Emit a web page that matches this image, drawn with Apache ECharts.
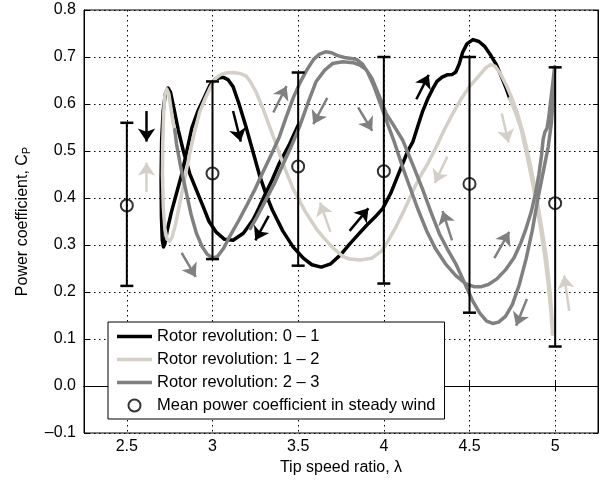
<!DOCTYPE html>
<html><head><meta charset="utf-8">
<script src="https://cdn.jsdelivr.net/npm/echarts@6/dist/echarts.min.js"></script>
<style>html,body{margin:0;padding:0;background:#fff}#c{width:606px;height:481px}</style>
</head><body><div id="c"></div>
<script>
// ---- data ----
const seriesNames = ['Rotor revolution: 0 \u2013 1', 'Rotor revolution: 1 \u2013 2', 'Rotor revolution: 2 \u2013 3', 'Mean power coefficient in steady wind'];
const rev01 = [[3.50,0.555],[3.45,0.515],[3.39,0.474],[3.35,0.44],[3.31,0.41],[3.27,0.378],[3.236,0.353],[3.18,0.325],[3.12,0.31],[3.07,0.312],[3.02,0.328],[2.98,0.35],[2.945,0.382],[2.905,0.418],[2.867,0.452],[2.83,0.5],[2.80,0.545],[2.775,0.59],[2.755,0.625],[2.74,0.634],[2.725,0.622],[2.712,0.585],[2.703,0.52],[2.70,0.44],[2.702,0.36],[2.707,0.31],[2.714,0.296],[2.722,0.302],[2.735,0.33],[2.76,0.37],[2.79,0.41],[2.82,0.45],[2.85,0.50],[2.88,0.55],[2.915,0.585],[2.95,0.612],[2.985,0.64],[3.02,0.654],[3.06,0.657],[3.09,0.652],[3.12,0.637],[3.155,0.60],[3.195,0.552],[3.235,0.50],[3.275,0.448],[3.315,0.405],[3.35,0.374],[3.41,0.33],[3.47,0.296],[3.53,0.272],[3.58,0.258],[3.635,0.253],[3.69,0.26],[3.75,0.28],[3.80,0.302],[3.85,0.322],[3.90,0.342],[3.95,0.36],[3.994,0.378],[4.04,0.41],[4.09,0.455],[4.14,0.50],[4.17,0.52],[4.20,0.555],[4.227,0.585],[4.255,0.61],[4.285,0.632],[4.31,0.648],[4.34,0.657],[4.37,0.662],[4.40,0.663],[4.42,0.668],[4.44,0.685],[4.46,0.71],[4.485,0.728],[4.52,0.737],[4.555,0.733],[4.59,0.722],[4.625,0.703],[4.655,0.685],[4.69,0.655],[4.715,0.632],[4.735,0.612]];
const rev12 = [[4.735,0.612],[4.77,0.58],[4.80,0.548],[4.83,0.50],[4.86,0.447],[4.89,0.39],[4.915,0.335],[4.94,0.275],[4.96,0.215],[4.975,0.16],[4.985,0.11],[4.983,0.14],[4.97,0.2],[4.95,0.27],[4.92,0.34],[4.885,0.415],[4.85,0.48],[4.815,0.535],[4.78,0.58],[4.75,0.61],[4.715,0.64],[4.68,0.665],[4.65,0.68],[4.625,0.684],[4.595,0.677],[4.555,0.66],[4.50,0.637],[4.45,0.61],[4.40,0.578],[4.35,0.543],[4.305,0.508],[4.255,0.472],[4.207,0.443],[4.17,0.415],[4.12,0.375],[4.07,0.338],[4.03,0.312],[3.99,0.288],[3.93,0.272],[3.86,0.268],[3.80,0.27],[3.76,0.276],[3.70,0.295],[3.65,0.315],[3.605,0.335],[3.54,0.372],[3.47,0.42],[3.42,0.465],[3.37,0.516],[3.33,0.555],[3.295,0.59],[3.255,0.625],[3.22,0.648],[3.195,0.66],[3.16,0.665],[3.12,0.667],[3.08,0.666],[3.05,0.663],[3.02,0.655],[2.99,0.637],[2.955,0.61],[2.925,0.583],[2.895,0.54],[2.867,0.495],[2.84,0.445],[2.81,0.39],[2.785,0.345],[2.765,0.318],[2.75,0.308],[2.735,0.312],[2.722,0.335],[2.713,0.38],[2.708,0.45],[2.71,0.52],[2.715,0.58],[2.722,0.618],[2.733,0.632],[2.745,0.622],[2.758,0.59],[2.77,0.56],[2.78,0.545]];
const rev23 = [[2.78,0.545],[2.79,0.515],[2.815,0.465],[2.845,0.415],[2.875,0.365],[2.906,0.325],[2.94,0.296],[2.97,0.28],[3.0,0.272],[3.03,0.276],[3.065,0.293],[3.10,0.318],[3.15,0.35],[3.198,0.383],[3.25,0.42],[3.294,0.455],[3.34,0.49],[3.39,0.53],[3.43,0.572],[3.47,0.612],[3.51,0.645],[3.55,0.672],[3.59,0.695],[3.625,0.706],[3.66,0.711],[3.695,0.709],[3.73,0.703],[3.77,0.699],[3.81,0.697],[3.845,0.694],[3.875,0.685],[3.905,0.668],[3.94,0.64],[3.974,0.606],[4.02,0.56],[4.065,0.515],[4.11,0.465],[4.15,0.425],[4.2,0.375],[4.25,0.33],[4.30,0.293],[4.36,0.26],[4.42,0.235],[4.48,0.217],[4.53,0.211],[4.565,0.211],[4.61,0.216],[4.66,0.228],[4.71,0.247],[4.76,0.273],[4.80,0.305],[4.83,0.335],[4.86,0.37],[4.885,0.41],[4.905,0.45],[4.92,0.49],[4.93,0.525],[4.94,0.54],[4.952,0.548],[4.962,0.57],[4.975,0.61],[4.988,0.65],[4.997,0.68],[4.99,0.62],[4.978,0.56],[4.96,0.51],[4.93,0.455],[4.90,0.40],[4.866,0.33],[4.83,0.27],[4.79,0.215],[4.75,0.173],[4.71,0.148],[4.67,0.136],[4.635,0.133],[4.60,0.138],[4.56,0.155],[4.52,0.18],[4.47,0.22],[4.42,0.26],[4.37,0.292],[4.324,0.324],[4.275,0.37],[4.227,0.418],[4.17,0.47],[4.11,0.523],[4.06,0.553],[4.013,0.58],[3.97,0.62],[3.93,0.655],[3.897,0.673],[3.86,0.683],[3.82,0.688],[3.76,0.69],[3.70,0.686],[3.655,0.672],[3.605,0.648],[3.56,0.605],[3.508,0.552],[3.46,0.51],[3.41,0.47],[3.36,0.43],[3.31,0.395],[3.26,0.36],[3.22,0.335]];
const steadyLambda = [2.5, 3.0, 3.5, 4.0, 4.5, 5.0];
const steadyMean   = [0.384, 0.452, 0.467, 0.457, 0.430, 0.389];
const steadyLow    = [0.213, 0.270, 0.256, 0.218, 0.156, 0.084];
const steadyHigh   = [0.560, 0.648, 0.667, 0.700, 0.700, 0.678];
// direction arrows: [x0, y0, x1, y1]
const arrows01 = [[2.615,0.585,2.615,0.52],[3.12,0.585,3.165,0.52],[3.328,0.362,3.25,0.31],[3.80,0.33,3.91,0.378],[4.19,0.61,4.262,0.662]];
const arrows12 = [[2.615,0.413,2.615,0.475],[3.688,0.328,3.628,0.39],[4.37,0.488,4.298,0.432],[4.688,0.58,4.728,0.518],[5.082,0.16,5.052,0.235]];
const arrows23 = [[2.82,0.283,2.902,0.232],[3.355,0.582,3.432,0.638],[3.67,0.613,3.588,0.557],[3.85,0.593,3.932,0.543],[4.398,0.31,4.343,0.372],[4.645,0.272,4.732,0.328],[4.835,0.185,4.772,0.128]];
const yTickLabels = ['\u20130.1','0.0','0.1','0.2','0.3','0.4','0.5','0.6','0.7','0.8'];

const FONT = 'Liberation Sans, Arial, Helvetica, sans-serif';
const colors = ['#000000', '#d4d0c8', '#808080'];
const lineIcon = 'path://M0,0 L35,0 L35,3.6 L0,3.6 Z';

function arrowMarks(list, color) {
  return {
    silent: true, animation: false,
    symbol: ['none', 'arrow'], symbolSize: [13, 13],
    label: { show: false },
    lineStyle: { color: color, width: 2.5, type: 'solid' },
    emphasis: { disabled: true },
    data: list.map(a => [{ coord: [a[0], a[1]] }, { coord: [a[2], a[3]] }])
  };
}
function curve(name, data, color, arrows) {
  return {
    name: name, type: 'line', data: data, symbol: 'none', showSymbol: false,
    smooth: false, z: 2, animation: false, silent: true,
    lineStyle: { color: color, width: 3.5, join: 'round', cap: 'round' },
    itemStyle: { color: color },
    markLine: arrowMarks(arrows, color)
  };
}

const chart = echarts.init(document.getElementById('c'), null, { renderer: 'canvas' });
chart.setOption({
  animation: false,
  backgroundColor: '#fff',
  textStyle: { fontFamily: FONT },
  grid: { left: 84, right: 8, top: 10, bottom: 48, show: true, borderColor: '#000', borderWidth: 1, backgroundColor: 'transparent' },
  xAxis: [{
    type: 'value', min: 2.25, max: 5.25, minInterval: 0.5, maxInterval: 0.5, splitNumber: 6,
    name: 'Tip speed ratio, \u03bb', nameLocation: 'middle', nameGap: 23,
    nameTextStyle: { fontFamily: FONT, fontSize: 16, color: '#000' },
    axisLine: { show: true, lineStyle: { color: '#000', width: 1 } },
    axisTick: { show: true, inside: true, length: 5, lineStyle: { color: '#000' } },
    axisLabel: { showMinLabel: false, showMaxLabel: false, margin: 6, fontFamily: FONT, fontSize: 16, color: '#000',
      formatter: v => (Math.abs(v * 2 - Math.round(v * 2)) < 1e-6 ? String(+v.toFixed(1)) : '') },
    splitLine: { show: true, lineStyle: { color: '#000', type: [1.5, 3.5], width: 1 } }
  }, {
    type: 'value', position: 'top', min: 2.25, max: 5.25, minInterval: 0.5, maxInterval: 0.5, splitNumber: 6,
    axisLine: { show: true, lineStyle: { color: '#000' } },
    axisTick: { show: true, inside: true, length: 5, lineStyle: { color: '#000' } },
    axisLabel: { show: false }, splitLine: { show: false }
  }],
  yAxis: [{
    type: 'value', min: -0.1, max: 0.8, interval: 0.1,
    name: 'Power coefficient, C{sub|P}', nameLocation: 'middle', nameGap: 52,
    nameTextStyle: { fontFamily: FONT, fontSize: 16, color: '#000',
      rich: { sub: { fontFamily: FONT, fontSize: 11, color: '#000', verticalAlign: 'bottom', padding: [8, 0, 0, 0] } } },
    axisLine: { show: true, lineStyle: { color: '#000', width: 1 } },
    axisTick: { show: true, inside: true, length: 5, lineStyle: { color: '#000' } },
    axisLabel: { margin: 8, fontFamily: FONT, fontSize: 16, color: '#000',
      formatter: v => yTickLabels[Math.round((v + 0.1) * 10)] || '' },
    splitLine: { show: true, lineStyle: { color: '#000', type: [1.5, 3.5], width: 1 } }
  }, {
    type: 'value', position: 'right', min: -0.1, max: 0.8, interval: 0.1,
    axisLine: { show: true, lineStyle: { color: '#000' } },
    axisTick: { show: true, inside: true, length: 5, lineStyle: { color: '#000' } },
    axisLabel: { show: false }, splitLine: { show: false }
  }],
  legend: {
    orient: 'vertical', left: 108, top: 322,
    padding: [6, 9, 5, 9], itemGap: 6, itemWidth: 35, itemHeight: 12,
    borderColor: '#000', borderWidth: 1, backgroundColor: '#fff', borderRadius: 0,
    textStyle: { fontFamily: FONT, fontSize: 16.5, color: '#000' },
    selectedMode: false,
    data: [
      { name: seriesNames[0], icon: lineIcon, itemStyle: { color: colors[0], borderWidth: 0 } },
      { name: seriesNames[1], icon: lineIcon, itemStyle: { color: colors[1], borderWidth: 0 } },
      { name: seriesNames[2], icon: lineIcon, itemStyle: { color: colors[2], borderWidth: 0 } },
      { name: seriesNames[3], icon: 'circle' }
    ]
  },
  series: [
    curve(seriesNames[0], rev01, colors[0], arrows01),
    curve(seriesNames[1], rev12, colors[1], arrows12),
    curve(seriesNames[2], rev23, colors[2], arrows23),
    {
      name: 'errbar', type: 'custom', z: 5, silent: true,
      data: steadyLambda.map((l, i) => [l, steadyLow[i], steadyHigh[i]]),
      encode: { x: 0, y: [1, 2] },
      renderItem: function (params, api) {
        const x = api.value(0);
        const pLo = api.coord([x, api.value(1)]);
        const pHi = api.coord([x, api.value(2)]);
        const w = 6.5;
        return {
          type: 'group', children: [
            { type: 'line', shape: { x1: pLo[0], y1: pLo[1], x2: pHi[0], y2: pHi[1] }, style: { stroke: '#000', lineWidth: 2 } },
            { type: 'line', shape: { x1: pLo[0] - w, y1: pLo[1], x2: pLo[0] + w, y2: pLo[1] }, style: { stroke: '#000', lineWidth: 2.5 } },
            { type: 'line', shape: { x1: pHi[0] - w, y1: pHi[1], x2: pHi[0] + w, y2: pHi[1] }, style: { stroke: '#000', lineWidth: 2.5 } }
          ]
        };
      }
    },
    {
      name: seriesNames[3], type: 'scatter', z: 6, silent: true,
      data: steadyLambda.map((l, i) => [l, steadyMean[i]]),
      symbol: 'circle', symbolSize: 12,
      itemStyle: { color: 'rgba(255,255,255,0)', borderColor: '#000', borderWidth: 2 }
    }
  ]
});
</script>
</body></html>
